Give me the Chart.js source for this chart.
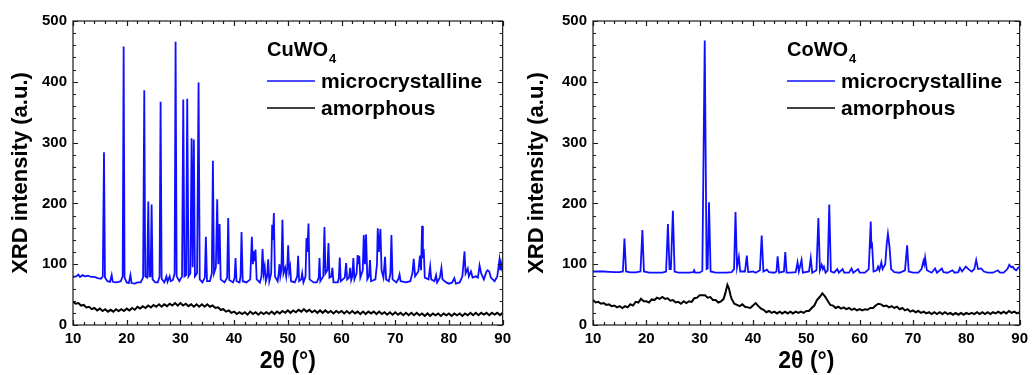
<!DOCTYPE html>
<html lang="en">
<head>
    <meta charset="UTF-8">
    <title>XRD CuWO4 / CoWO4</title>
    <script src="https://cdn.jsdelivr.net/npm/chart.js"></script>
    <style>
        body { margin: 0; background: #fff; }
        .panel { position: absolute; top: 0; height: 375px; }
    </style>
</head>
<body>
    <div class="panel" style="left:0;width:516px"><canvas id="cuChart" width="516" height="375"></canvas></div>
    <div class="panel" style="left:516px;width:517px"><canvas id="coChart" width="517" height="375"></canvas></div>

    <script>
        // axis ticks
        const xTicks = [10, 20, 30, 40, 50, 60, 70, 80, 90];
        const xMinorStep = 2;
        const yTicks = [0, 100, 200, 300, 400, 500];
        const yMinorStep = 20;

        // CuWO4 microcrystalline: [2theta, intensity]
        const cuMicro = [
            [10,79],[10.6,80],[11,83],[11.3,79],[11.8,82],[12.2,80],[12.8,81],[13.4,79],[14,79],[14.6,77],[15.2,76],
            [15.55,80],[15.77,284],[15.95,78],[16.4,72],[16.9,71],[17.2,82],[17.4,71],[18,70],[18.5,71],[18.9,72],
            [19.25,80],[19.43,458],[19.6,78],[20,70],[20.4,69],[20.7,82],[20.9,69],[21.5,68],[22,70],[22.6,70],
            [23.05,78],[23.27,386],[23.45,80],[23.8,78],[24.02,203],[24.2,80],[24.45,80],[24.64,198],[24.82,75],
            [25.3,70],[25.8,70],[26.12,80],[26.31,367],[26.5,76],[27,70],[27.4,80],[27.6,71],[28,80],[28.2,72],
            [28.6,74],[28.92,85],[29.1,466],[29.3,80],[29.8,72],[30.3,80],[30.53,371],[30.75,80],[31.05,82],
            [31.27,372],[31.5,80],[31.85,85],[32.08,307],[32.28,95],[32.5,305],[32.7,80],[33.1,85],[33.38,399],
            [33.6,75],[34.1,70],[34.55,78],[34.74,145],[34.95,72],[35.5,72],[35.85,85],[36.05,270],[36.25,85],
            [36.6,95],[36.85,207],[37.05,100],[37.29,166],[37.5,75],[38.2,70],[38.7,78],[38.9,176],[39.1,74],
            [39.8,70],[40.1,78],[40.26,110],[40.45,72],[41,70],[41.2,80],[41.38,153],[41.6,72],[42.3,70],[43,75],
            [43.3,145],[43.5,100],[43.67,121],[43.8,105],[43.98,124],[44.2,75],[44.8,70],[45.1,80],[45.29,125],
            [45.5,85],[45.7,96],[45.9,72],[46.15,80],[46.34,108],[46.55,72],[46.9,85],[47.08,165],[47.22,140],
            [47.4,184],[47.6,80],[48.1,72],[48.3,85],[48.45,100],[48.6,80],[48.8,90],[49.0,173],[49.2,85],[49.5,94],
            [49.7,80],[49.9,95],[50.06,131],[50.25,88],[50.43,96],[50.6,72],[51.3,70],[51.75,80],[51.92,114],
            [52.1,72],[52.5,75],[52.67,85],[52.9,70],[53.3,80],[53.47,143],[53.62,120],[53.85,167],[54.05,75],
            [54.8,70],[55.4,70],[55.75,78],[55.9,110],[56.05,72],[56.6,80],[56.82,161],[57.0,85],[57.35,90],
            [57.57,135],[57.75,78],[58.1,80],[58.3,94],[58.5,70],[59.3,70],[59.5,78],[59.67,111],[59.85,72],
            [60.6,78],[60.85,102],[61.05,75],[61.4,78],[61.6,94],[61.8,74],[62.0,80],[62.2,110],[62.4,75],[62.8,85],
            [63.0,115],[63.15,100],[63.3,114],[63.5,78],[63.95,90],[64.14,148],[64.35,100],[64.57,149],[64.8,75],
            [65.1,80],[65.3,107],[65.5,72],[66.3,75],[66.6,100],[66.74,159],[66.95,120],[67.24,158],[67.45,90],
            [67.8,78],[68.1,112],[68.3,75],[68.8,72],[69.1,85],[69.29,148],[69.5,75],[70.2,70],[70.6,76],[70.8,83],
            [71.0,72],[72,70],[72.8,72],[73.2,85],[73.44,109],[73.7,80],[74.3,88],[74.6,114],[74.8,90],[75.0,163],
            [75.15,110],[75.3,125],[75.5,78],[76.2,75],[76.5,96],[76.7,75],[77.3,72],[77.6,82],[77.8,70],[78.3,78],
            [78.6,94],[78.8,75],[79.5,70],[80,68],[80.6,70],[81,77],[81.3,68],[82,70],[82.5,80],[82.9,121],[83.1,85],
            [83.5,93],[83.7,80],[84.1,88],[84.4,78],[85,80],[85.4,78],[85.7,98],[86,85],[86.5,75],[87,88],[87.2,90],
            [87.5,88],[87.8,78],[88.5,72],[89,80],[89.4,107],[89.55,90],[89.7,102],[90,88]
        ];

        // CuWO4 amorphous
        const cuAmorph = [
            [10,38],[10.5,35],[11,36],[11.5,32],[12,33],[12.5,29],[13,30],[13.5,26],[14,28],[14.5,24],[15,27],[15.5,23],
            [16,26],[16.5,22],[17,25],[17.5,22],[18,26],[18.5,23],[19,26],[19.5,23],[20,27],[20.5,24],[21,28],[21.5,25],
            [22,30],[22.5,27],[23,31],[23.5,28],[24,32],[24.5,29],[25,33],[25.5,30],[26,34],[26.5,30],[27,34],[27.5,31],
            [28,35],[28.5,32],[29,36],[29.5,32],[30,36],[30.5,32],[31,35],[31.5,31],[32,34],[32.5,30],[33,34],[33.5,30],
            [34,34],[34.5,30],[35,34],[35.5,30],[36,32],[36.5,28],[37,29],[37.5,25],[38,26],[38.5,22],[39,24],[39.5,20],
            [40,22],[40.5,18],[41,21],[41.5,18],[42,21],[42.5,17],[43,22],[43.5,18],[44,21],[44.5,17],[45,21],[45.5,18],
            [46,21],[46.5,18],[47,22],[47.5,18],[48,22],[48.5,19],[49,23],[49.5,20],[50,24],[50.5,20],[51,24],[51.5,21],
            [52,25],[52.5,22],[53,26],[53.5,22],[54,25],[54.5,21],[55,24],[55.5,20],[56,24],[56.5,20],[57,24],[57.5,20],
            [58,23],[58.5,19],[59,23],[59.5,20],[60,23],[60.5,19],[61,23],[61.5,19],[62,23],[62.5,19],[63,22],[63.5,18],
            [64,22],[64.5,18],[65,22],[65.5,19],[66,22],[66.5,18],[67,22],[67.5,18],[68,21],[68.5,17],[69,21],[69.5,17],
            [70,21],[70.5,17],[71,20],[71.5,16],[72,20],[72.5,16],[73,20],[73.5,16],[74,20],[74.5,16],[75,19],[75.5,15],
            [76,19],[76.5,15],[77,19],[77.5,16],[78,19],[78.5,15],[79,19],[79.5,16],[80,19],[80.5,15],[81,19],[81.5,16],
            [82,19],[82.5,15],[83,19],[83.5,16],[84,20],[84.5,16],[85,20],[85.5,16],[86,20],[86.5,17],[87,20],[87.5,16],
            [88,20],[88.5,17],[89,20],[89.5,16],[90,20]
        ];

        // CoWO4 microcrystalline
        const coMicro = [
            [10,88],[11,88],[12,88],[13,87.5],[14,87],[15,87],[15.6,88],[15.9,142],[16.2,88],[17,86.5],[18,86.5],
            [18.9,88],[19.26,156],[19.55,88],[20.5,86],[22,86],[23,86],[23.7,88],[24.05,166],[24.35,92],[24.6,92],
            [24.98,188],[25.3,88],[26,86],[27,86],[28,86],[28.8,87],[28.96,90],[29.15,86],[30,86],[30.5,89],
            [30.95,468],[31.3,92],[31.5,93],[31.75,202],[32.05,88],[33,86],[34,86],[35,86],[36,87],[36.45,92],
            [36.72,186],[37.0,95],[37.35,112],[37.6,88],[38.5,88],[38.84,114],[39.1,87],[40,88],[40.5,86],[41.3,90],
            [41.63,147],[41.95,88],[42.6,91],[43,87],[44,86],[44.4,88],[44.62,113],[44.9,86],[45.8,88],[46.05,120],
            [46.3,86],[47,86],[48,87],[48.35,103],[48.6,88],[49.1,107],[49.35,86],[50.5,88],[50.83,110],[51.1,86],
            [51.9,90],[52.26,176],[52.55,90],[52.88,99],[53.1,92],[53.3,96],[53.6,86],[54.0,90],[54.3,198],[54.6,88],
            [55.2,86],[55.8,92],[56.1,86],[56.8,92],[57.1,86],[58,86],[58.48,93],[58.8,86],[59.7,92],[60,86],[61,86],
            [61.7,92],[62.08,170],[62.2,130],[62.33,132],[62.6,88],[63.2,90],[63.45,96],[63.7,90],[64.07,103],
            [64.3,92],[64.8,100],[65.07,133],[65.3,150],[65.6,128],[65.9,92],[66.5,87],[67.5,86],[68.5,90],[68.9,131],
            [69.2,88],[70,86],[71,86],[71.6,92],[71.96,105],[72.1,100],[72.27,111],[72.6,90],[73.5,86],[74.14,93],
            [74.5,86],[75.4,93],[75.7,87],[76.5,86],[77.4,90],[77.8,86],[78.5,87],[78.8,94],[79.2,88],[79.9,96],
            [80.5,91],[81,88],[81.5,92],[81.85,107],[82.2,92],[82.8,93],[83.3,88],[84,86],[85,86],[85.9,90],[86.3,86],
            [87,86],[87.7,92],[88.06,99],[88.4,95],[88.7,96],[89.0,92],[89.35,90],[89.7,94],[90,96]
        ];

        // CoWO4 amorphous
        const coAmorph = [
            [10,41],[10.5,37],[11,38],[11.5,35],[12,36],[12.5,33],[13,34],[13.5,31],[14,32],[14.5,29],[15,31],[15.5,28],
            [16,31],[16.5,29],[17,34],[17.5,32],[18,38],[18.5,37],[19,43],[19.5,39],[20,39],[20.5,37],[21,42],[21.5,41],
            [22,45],[22.5,43],[23,46],[23.5,43],[24,44],[24.5,40],[25,41],[25.5,37],[26,38],[26.5,35],[27,39],[27.5,36],
            [28,39],[28.5,38],[29,44],[29.5,45],[30,49],[30.5,49],[31,49],[31.5,45],[32,46],[32.5,41],[33,41],[33.5,37],
            [34,39],[34.5,43],[34.8,52],[35.2,66],[35.5,60],[35.8,48],[36,43],[36.5,35],[37,33],[37.5,31],[38,34],[38.5,30],
            [39,29],[39.5,28],[40,32],[40.5,36],[41,31],[41.5,27],[42,25],[42.5,21],[43,23],[43.5,20],[44,22],[44.5,19],
            [45,22],[45.5,19],[46,22],[46.5,19],[47,22],[47.5,19],[48,22],[48.5,20],[49,22],[49.5,20],[50,23],[50.5,23],
            [51,28],[51.5,32],[52,41],[52.5,46],[53,52],[53.5,47],[54,40],[54.5,33],[55,32],[55.5,28],[56,30],[56.5,27],
            [57,29],[57.5,26],[58,28],[58.5,25],[59,27],[59.5,24],[60,26],[60.5,24],[61,26],[61.5,25],[62,28],[62.5,28],
            [63,32],[63.5,35],[64,34],[64.5,31],[65,32],[65.5,29],[66,31],[66.5,28],[67,30],[67.5,26],[68,28],[68.5,24],
            [69,26],[69.5,22],[70,24],[70.5,21],[71,23],[71.5,20],[72,22],[72.5,19],[73,21],[73.5,18],[74,21],[74.5,18],
            [75,21],[75.5,18],[76,21],[76.5,18],[77,20],[77.5,17],[78,20],[78.5,17],[79,20],[79.5,17],[80,20],[80.5,18],
            [81,20],[81.5,18],[82,21],[82.5,18],[83,21],[83.5,18],[84,21],[84.5,18],[85,21],[85.5,19],[86,22],[86.5,19],
            [87,22],[87.5,19],[88,23],[88.5,20],[89,22],[89.5,19],[90,21]
        ];

        const FONT = "'Liberation Sans', Arial, sans-serif";
        const BLUE = '#0f0fff';
        Chart.defaults.font.family = FONT;
        Chart.defaults.color = '#000';

        // box around plot with inward major/minor ticks on all four sides
        const framePlugin = {
            id: 'frame',
            afterDatasetsDraw(chart) {
                const { ctx, chartArea: a, scales: { x, y } } = chart;
                ctx.save();
                ctx.strokeStyle = '#1a1a1a';
                ctx.lineWidth = 1.2;
                ctx.strokeRect(a.left, a.top, a.right - a.left, a.bottom - a.top);
                ctx.beginPath();
                for (let v = xTicks[0]; v <= xTicks[xTicks.length - 1]; v += xMinorStep) {
                    const px = Math.round(x.getPixelForValue(v)) + 0.5;
                    const len = xTicks.includes(v) ? 5 : 3;
                    ctx.moveTo(px, a.bottom); ctx.lineTo(px, a.bottom - len);
                    ctx.moveTo(px, a.top); ctx.lineTo(px, a.top + len);
                }
                for (let v = yTicks[0]; v <= yTicks[yTicks.length - 1]; v += yMinorStep) {
                    const py = Math.round(y.getPixelForValue(v)) + 0.5;
                    const len = yTicks.includes(v) ? 5 : 3;
                    ctx.moveTo(a.left, py); ctx.lineTo(a.left + len, py);
                    ctx.moveTo(a.right, py); ctx.lineTo(a.right - len, py);
                }
                ctx.stroke();
                ctx.restore();
            }
        };

        // legend block: compound name with subscript + two line samples
        const legendPlugin = {
            id: 'xrdLegend',
            afterDraw(chart, args, opts) {
                const { ctx, chartArea: a } = chart;
                const lx = a.left + 194;
                const ty = a.top;
                ctx.save();
                ctx.fillStyle = '#000';
                ctx.textBaseline = 'alphabetic';
                ctx.font = 'bold 20px ' + FONT;
                ctx.fillText(opts.name, lx, ty + 35);
                const w = ctx.measureText(opts.name).width;
                ctx.font = 'bold 13px ' + FONT;
                ctx.fillText('4', lx + w + 1, ty + 42);

                const rows = [
                    { label: 'microcrystalline', color: BLUE, ly: ty + 60, tb: ty + 67 },
                    { label: 'amorphous', color: '#000', ly: ty + 87, tb: ty + 94 }
                ];
                rows.forEach(r => {
                    ctx.strokeStyle = r.color;
                    ctx.lineWidth = 1.5;
                    ctx.beginPath();
                    ctx.moveTo(lx, r.ly); ctx.lineTo(lx + 48, r.ly);
                    ctx.stroke();
                    ctx.font = 'bold 21px ' + FONT;
                    ctx.fillStyle = '#000';
                    ctx.fillText(r.label, lx + 54, r.tb);
                });
                ctx.restore();
            }
        };

        const toXY = arr => arr.map(p => ({ x: p[0], y: p[1] }));

        function makeChart(id, name, micro, amorph, yWidth, padRight) {
            const ctx = document.getElementById(id).getContext('2d');
            return new Chart(ctx, {
                type: 'line',
                data: {
                    datasets: [
                        { label: 'amorphous', data: toXY(amorph), borderColor: '#000', borderWidth: 2 },
                        { label: 'microcrystalline', data: toXY(micro), borderColor: BLUE, borderWidth: 1.8 }
                    ]
                },
                options: {
                    responsive: false,
                    animation: false,
                    events: [],
                    elements: { point: { radius: 0 }, line: { tension: 0 } },
                    layout: { padding: { top: 21, right: padRight, left: 0, bottom: 0 } },
                    plugins: {
                        legend: { display: false },
                        tooltip: { enabled: false },
                        xrdLegend: { name: name }
                    },
                    scales: {
                        x: {
                            type: 'linear', min: 10, max: 90,
                            afterBuildTicks: s => { s.ticks = xTicks.map(v => ({ value: v })); },
                            grid: { display: false, drawTicks: false },
                            border: { display: false },
                            ticks: { padding: 5, maxRotation: 0, font: { size: 15, weight: 'bold' }, color: '#000' },
                            title: { display: true, text: '2θ (°)', font: { size: 23, weight: 'bold' }, color: '#000', padding: { top: 0, bottom: 0 } },
                            afterFit: s => { s.height = 50; }
                        },
                        y: {
                            type: 'linear', min: 0, max: 500,
                            afterBuildTicks: s => { s.ticks = yTicks.map(v => ({ value: v })); },
                            grid: { display: false, drawTicks: false },
                            border: { display: false },
                            ticks: { padding: 6, font: { size: 15, weight: 'bold' }, color: '#000' },
                            title: { display: true, text: 'XRD intensity (a.u.)', font: { size: 22, weight: 'bold' }, color: '#000', padding: { top: 8, bottom: 0 } },
                            afterFit: s => { s.width = yWidth; }
                        }
                    }
                },
                plugins: [framePlugin, legendPlugin]
            });
        }

        makeChart('cuChart', 'CuWO', cuMicro, cuAmorph, 73, 13);
        makeChart('coChart', 'CoWO', coMicro, coAmorph, 77, 11);
    </script>
</body>
</html>
